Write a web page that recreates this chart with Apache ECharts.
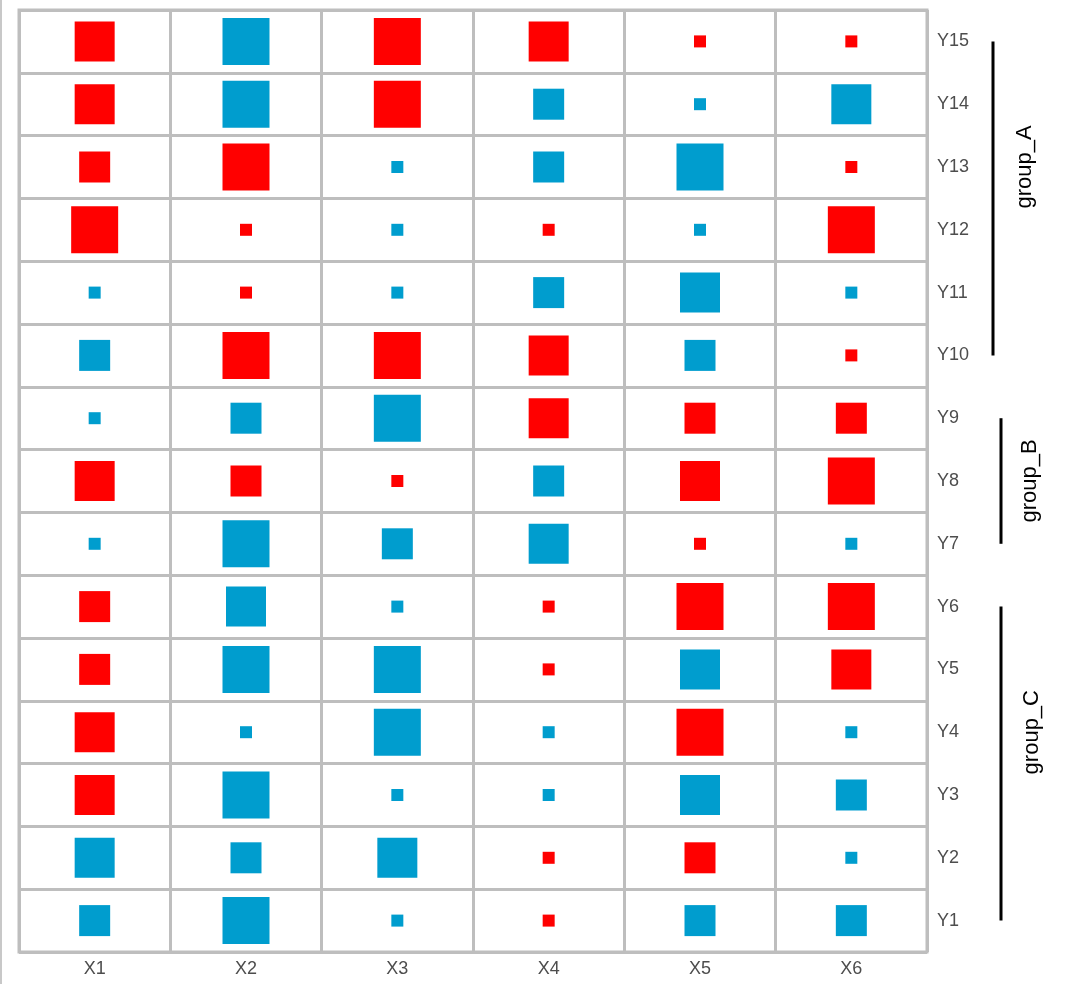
<!DOCTYPE html>
<html><head><meta charset="utf-8">
<script src="https://cdn.jsdelivr.net/npm/echarts/dist/echarts.min.js"></script>
<style>html,body{margin:0;padding:0;background:#fff}#c{width:1080px;height:984px}</style>
</head><body><div id="c"></div>
<script>
const xCats = ['X1','X2','X3','X4','X5','X6'];
const yCats = ['Y1','Y2','Y3','Y4','Y5','Y6','Y7','Y8','Y9','Y10','Y11','Y12','Y13','Y14','Y15'];
// signed magnitude level per cell (positive = red, negative = blue), rows Y1..Y15
const rowY1  = [-2,-4,-1, 1,-2,-2];
const rowY2  = [-3,-2,-3, 1, 2,-1];
const rowY3  = [ 3,-4,-1,-1,-3,-2];
const rowY4  = [ 3,-1,-4,-1, 4,-1];
const rowY5  = [ 2,-4,-4, 1,-3, 3];
const rowY6  = [ 2,-3,-1, 1, 4, 4];
const rowY7  = [-1,-4,-2,-3, 1,-1];
const rowY8  = [ 3, 2, 1,-2, 3, 4];
const rowY9  = [-1,-2,-4, 3, 2, 2];
const rowY10 = [-2, 4, 4, 3,-2, 1];
const rowY11 = [-1, 1,-1,-2,-3,-1];
const rowY12 = [ 4, 1,-1, 1,-1, 4];
const rowY13 = [ 2, 4,-1,-2,-4, 1];
const rowY14 = [ 3,-4, 4,-2,-1,-3];
const rowY15 = [ 3,-4, 4, 3, 1, 1];
const rows = [rowY1,rowY2,rowY3,rowY4,rowY5,rowY6,rowY7,rowY8,rowY9,rowY10,rowY11,rowY12,rowY13,rowY14,rowY15];

const groupNames   = ['group_A','group_B','group_C'];
const groupFrom    = ['Y15','Y9','Y6'];
const groupTo      = ['Y10','Y7','Y1'];
const groupLabelAt = ['Y13','Y8','Y4'];

const sizeMap = {1:12, 2:31, 3:40, 4:47};
const POS = '#ff0000', NEG = '#009dce';

const data = [];
rows.forEach((r, i) => r.forEach((v, j) => data.push([j, i, v])));

const chart = echarts.init(document.getElementById('c'), null, {renderer:'canvas'});
const FONT = 'Liberation Sans, Arial, sans-serif';
const axisCommon = {
  type:'category', boundaryGap:true,
  axisLine:{show:false}, axisTick:{show:false},
  axisLabel:{color:'#4d4d4d', fontSize:18, fontFamily:FONT},
  splitLine:{show:true, lineStyle:{color:'#bebebe', width:3}}
};
chart.setOption({
  animation:false,
  backgroundColor:'#fff',
  grid:{left:19, right:153, top:10, bottom:32, show:true, borderColor:'#bebebe', borderWidth:3, backgroundColor:'#fff'},
  xAxis:Object.assign({}, axisCommon, {data:xCats, axisLabel:Object.assign({}, axisCommon.axisLabel, {margin:8})}),
  yAxis:Object.assign({}, axisCommon, {data:yCats, position:'right', axisLabel:Object.assign({}, axisCommon.axisLabel, {margin:10})}),
  series:[{
    type:'scatter', symbol:'rect',
    symbolSize:d => sizeMap[Math.abs(d[2])],
    itemStyle:{color:p => p.data[2] > 0 ? POS : NEG, opacity:1},
    data:data
  }]
});

const g = [{type:'rect', shape:{x:0, y:0, width:2, height:984}, style:{fill:'#c8c8c8'}}];
const lineX = [993, 1001, 1001];
const textX = [1025, 1030, 1032];
groupNames.forEach((name, k) => {
  const y1 = chart.convertToPixel({yAxisIndex:0}, groupFrom[k]);
  const y2 = chart.convertToPixel({yAxisIndex:0}, groupTo[k]);
  const yl = chart.convertToPixel({yAxisIndex:0}, groupLabelAt[k]);
  g.push({type:'line', shape:{x1:lineX[k], y1:y1, x2:lineX[k], y2:y2}, style:{stroke:'#000', lineWidth:3}});
  g.push({type:'text', x:textX[k], y:yl, rotation:Math.PI/2,
    style:{text:name, fill:'#000', font:'22px "Liberation Sans", Arial, sans-serif', align:'center', verticalAlign:'middle'}});
});
chart.setOption({graphic:g});
</script>
</body></html>
